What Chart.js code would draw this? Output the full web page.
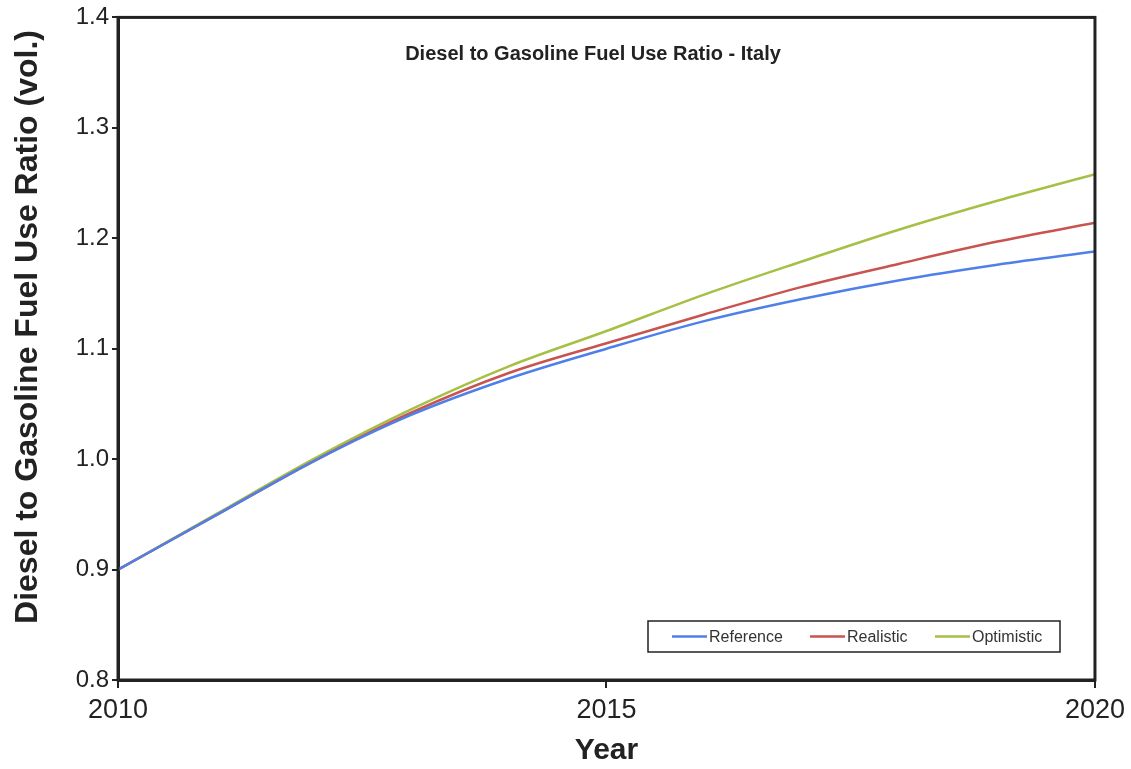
<!DOCTYPE html>
<html>
<head>
<meta charset="utf-8">
<script src="https://cdn.jsdelivr.net/npm/chart.js@4.4.1/dist/chart.umd.min.js"></script>
<style>
  html, body { margin: 0; padding: 0; background: #fff; }
  #wrap { position: relative; width: 1131px; height: 769px; }
</style>
</head>
<body>
<div id="wrap"><canvas id="c" width="1131" height="769"></canvas></div>
<script>
// Years on the horizontal axis
const years = [2010, 2011, 2012, 2013, 2014, 2015, 2016, 2017, 2018, 2019, 2020];

// Diesel / gasoline fuel use ratio for each scenario
const referenceRatio  = [0.900, 0.949, 0.998, 1.040, 1.073, 1.100, 1.125, 1.145, 1.162, 1.176, 1.188];
const realisticRatio  = [0.900, 0.949, 0.998, 1.042, 1.078, 1.105, 1.131, 1.156, 1.177, 1.197, 1.214];
const optimisticRatio = [0.900, 0.950, 1.000, 1.045, 1.084, 1.116, 1.149, 1.179, 1.208, 1.234, 1.258];

const seriesNames = ['Reference', 'Realistic', 'Optimistic'];
const seriesColors = ['#4f80ea', '#c9534f', '#a6c045'];

const chartTitle = 'Diesel to Gasoline Fuel Use Ratio - Italy';
const xTitle = 'Year';
const yTitle = 'Diesel to Gasoline Fuel Use Ratio (vol.)';

const SANS = '"Liberation Sans", Arial, sans-serif';
const AXIS = '#222';

function toPoints(vals) {
  return years.map((yr, i) => ({ x: yr, y: vals[i] }));
}

// Frame around the plot, the axis title on the left, the inner title and the boxed legend
const framePlugin = {
  id: 'frame',
  afterDraw(chart) {
    const { ctx, chartArea: a } = chart;
    ctx.save();
    ctx.strokeStyle = AXIS;
    ctx.lineWidth = 3;
    ctx.strokeRect(a.left, a.top, a.right - a.left, a.bottom - a.top);

    // vertical axis title
    ctx.save();
    ctx.translate(28, 327);
    ctx.rotate(-Math.PI / 2);
    ctx.fillStyle = '#222';
    ctx.font = 'bold 32px ' + SANS;
    ctx.textAlign = 'center';
    ctx.textBaseline = 'middle';
    ctx.fillText(yTitle, 0, 0);
    ctx.restore();

    // title inside the plot
    ctx.fillStyle = '#222';
    ctx.font = 'bold 20px ' + SANS;
    ctx.textAlign = 'center';
    ctx.textBaseline = 'middle';
    ctx.fillText(chartTitle, 593, 54);

    // legend box
    const bx = 648, by = 621, bw = 412, bh = 31;
    ctx.fillStyle = '#fff';
    ctx.fillRect(bx, by, bw, bh);
    ctx.lineWidth = 1.5;
    ctx.strokeStyle = '#222';
    ctx.strokeRect(bx, by, bw, bh);
    ctx.font = '16px ' + SANS;
    ctx.textAlign = 'left';
    const starts = [672, 810, 935];
    chart.data.datasets.forEach((ds, i) => {
      const x0 = starts[i], yMid = by + bh / 2;
      ctx.strokeStyle = ds.borderColor;
      ctx.lineWidth = 2.5;
      ctx.beginPath();
      ctx.moveTo(x0, yMid);
      ctx.lineTo(x0 + 35, yMid);
      ctx.stroke();
      ctx.fillStyle = '#333';
      ctx.fillText(ds.label, x0 + 37, yMid + 1);
    });
    ctx.restore();
  }
};

new Chart(document.getElementById('c'), {
  type: 'line',
  data: {
    datasets: [referenceRatio, realisticRatio, optimisticRatio].map((vals, i) => ({
      label: seriesNames[i],
      data: toPoints(vals),
      borderColor: seriesColors[i],
      backgroundColor: seriesColors[i],
      borderWidth: 2.5,
      pointRadius: 0,
      cubicInterpolationMode: 'monotone',
      fill: false
    }))
  },
  options: {
    responsive: false,
    animation: false,
    devicePixelRatio: 1,
    layout: { padding: { left: 0, top: 14, right: 31, bottom: 0 } },
    plugins: {
      legend: { display: false },
      title: { display: false },
      tooltip: { enabled: false }
    },
    scales: {
      x: {
        type: 'linear',
        min: 2010,
        max: 2020,
        afterFit(scale) { scale.height = 89; },
        ticks: {
          stepSize: 5,
          color: '#222',
          padding: 6,
          font: { family: SANS, size: 27 },
          maxRotation: 0,
          callback: v => String(v)
        },
        grid: { drawOnChartArea: false, drawTicks: true, tickLength: 8, color: AXIS, lineWidth: 2 },
        border: { display: true, color: AXIS, width: 3 },
        title: {
          display: true,
          text: xTitle,
          color: '#222',
          font: { family: SANS, size: 30, weight: 'bold' },
          padding: { top: 0, bottom: 0 }
        }
      },
      y: {
        min: 0.8,
        max: 1.4,
        afterFit(scale) { scale.width = 118; },
        ticks: {
          stepSize: 0.1,
          color: '#222',
          padding: 3,
          font: { family: SANS, size: 24 },
          callback: v => v.toFixed(1)
        },
        grid: { drawOnChartArea: false, drawTicks: true, tickLength: 6, color: AXIS, lineWidth: 2 },
        border: { display: true, color: AXIS, width: 3 }
      }
    }
  },
  plugins: [framePlugin]
});
</script>
</body>
</html>
